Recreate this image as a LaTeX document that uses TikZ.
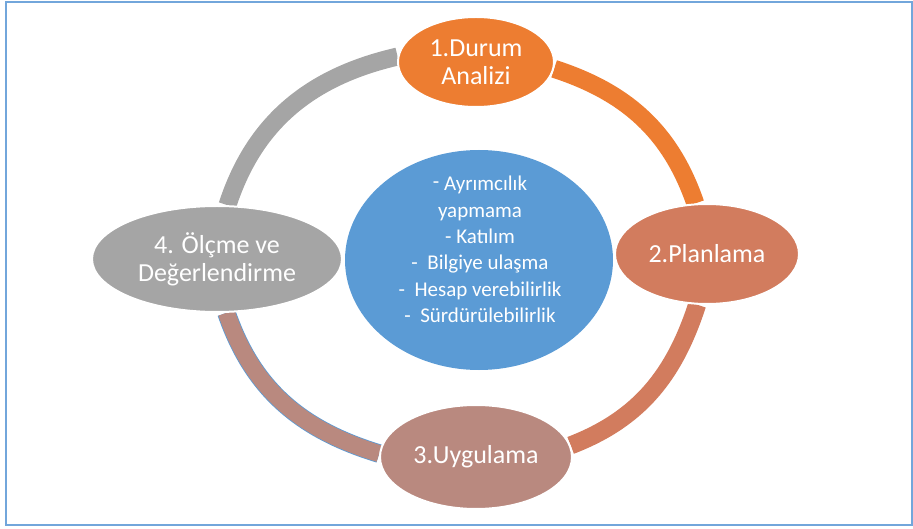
\documentclass[tikz,border=0pt]{standalone}
\usepackage{fontspec}
\setmainfont{Carlito}
\usetikzlibrary{shapes.geometric,backgrounds}
\definecolor{cOrange}{HTML}{ED7D31}
\definecolor{cTerra}{HTML}{D27C5E}
\definecolor{cRose}{HTML}{B9897F}
\definecolor{cGray}{HTML}{A5A5A5}
\definecolor{cBlue}{HTML}{5B9BD5}
\definecolor{cFrame}{HTML}{72A6DB}
\begin{document}
\begin{tikzpicture}[x=1pt,y=1pt,
  stage/.style={ellipse, draw=white, line width=2pt, text=white, inner sep=0pt,
    align=center, font=\fontsize{26}{28}\selectfont},
  ringarc/.style={line width=18pt}]
\useasboundingbox (0,0) rectangle (913,528);
\node[stage, fill=cOrange, minimum width=156pt, minimum height=90pt] (n1) at (476,466) {1.Durum\\Analizi};
\node[stage, fill=cTerra, minimum width=184pt, minimum height=100pt] (n2) at (707,274) {2.Planlama};
\node[stage, fill=cRose, minimum width=192pt, minimum height=104pt] (n3) at (476,71) {3.Uygulama};
\node[stage, fill=cGray, minimum width=250pt, minimum height=106pt] (n4) at (217,269) {4. Ölçme ve\\Değerlendirme};
\node[ellipse, fill=cBlue, minimum width=268pt, minimum height=220pt, inner sep=0pt] (c) at (479,268) {};
\node[text=white, align=center, inner sep=0pt, font=\fontsize{21}{26.4}\selectfont] (ct) at (480,278.5)
  {\raisebox{2pt}{-} Ayrımcılık\\yapmama\\- Katılım\\-\ \ Bilgiye ulaşma\\-\ \ Hesap verebilirlik\\-\ \ Sürdürülebilirlik};
\begin{scope}[on background layer]
  \draw[cFrame, line width=2pt] (6,3) rectangle (912,526);
  \draw[ringarc, draw=cGray] (n1.176) to[out=193, in=72] (n4.79);
  \draw[ringarc, draw=cOrange] (n1.355) to[out=342, in=109] (n2.103);
  \draw[ringarc, draw=cTerra] (n2.259) to[out=252, in=21] (n3.7);
  \draw[draw=cBlue, line width=0.8pt, double=cRose, double distance=17pt] (n3.178) to[out=163, in=289] (n4.280);
\end{scope}
\end{tikzpicture}
\end{document}
